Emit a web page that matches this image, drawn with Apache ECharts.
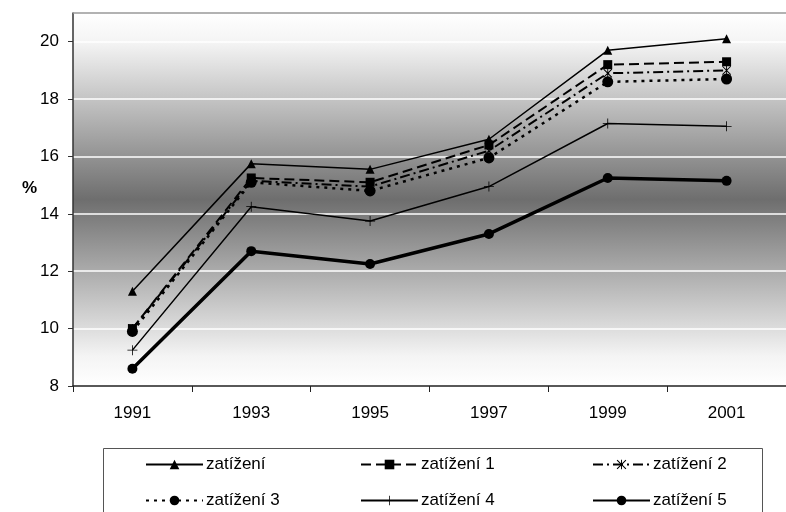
<!DOCTYPE html>
<html>
<head>
<meta charset="utf-8">
<script src="https://cdn.jsdelivr.net/npm/echarts@6/dist/echarts.min.js"></script>
<style>
  html, body { margin: 0; padding: 0; background: #fff; }
  #chart { width: 786px; height: 512px; }
</style>
</head>
<body>
<div id="chart"></div>
<script>
// Years on the horizontal axis
const years = ['1991', '1993', '1995', '1997', '1999', '2001'];

// Percentages for each load series
const zatizeni  = [11.3, 15.75, 15.55, 16.6, 19.7, 20.1];
const zatizeni1 = [10.0, 15.25, 15.1, 16.4, 19.2, 19.3];
const zatizeni2 = [10.0, 15.15, 14.95, 16.2, 18.9, 19.0];
const zatizeni3 = [9.9, 15.1, 14.8, 15.95, 18.6, 18.7];
const zatizeni4 = [9.25, 14.25, 13.75, 14.95, 17.15, 17.05];
const zatizeni5 = [8.6, 12.7, 12.25, 13.3, 15.25, 15.15];

const seriesNames = ['zatížení', 'zatížení 1', 'zatížení 2', 'zatížení 3', 'zatížení 4', 'zatížení 5'];

// Y axis range and step
const yMin = 8, yMax = 21, yStep = 2;

const FONT = '"Liberation Sans", Arial, sans-serif';

// Thin plus and asterisk markers as filled outlines
const plusPath = 'path://M4.6,0 H5.4 V4.6 H10 V5.4 H5.4 V10 H4.6 V5.4 H0 V4.6 H4.6 Z';
const starPath = 'path://M4.5,0 L5.5,0 L5.5,10 L4.5,10 Z M0,0.8 L0.8,0 L10,9.2 L9.2,10 Z M9.2,0 L10,0.8 L0.8,10 L0,9.2 Z';

function lineSeries(name, data, symbol, size, width, type) {
  return {
    name: name,
    type: 'line',
    data: data,
    symbol: symbol,
    symbolSize: size,
    showSymbol: true,
    animation: false,
    itemStyle: { color: '#000', borderWidth: 0 },
    lineStyle: { color: '#000', width: width, type: type, cap: 'butt' },
    emphasis: { disabled: true }
  };
}

const series = [
  lineSeries(seriesNames[0], zatizeni,  'triangle', 9, 1.5, 'solid'),
  lineSeries(seriesNames[1], zatizeni1, 'rect', 9, 2, [10, 5]),
  lineSeries(seriesNames[2], zatizeni2, starPath, 9, 2, [10, 4, 2, 4]),
  lineSeries(seriesNames[3], zatizeni3, 'circle', 11, 2.5, [3, 5]),
  lineSeries(seriesNames[4], zatizeni4, plusPath, 10, 1.5, 'solid'),
  lineSeries(seriesNames[5], zatizeni5, 'circle', 10, 3.5, 'solid')
];

// One legend column holding two stacked entries
function legendColumn(left, names) {
  return {
    orient: 'vertical',
    left: left,
    top: 456,
    height: 80,
    padding: 0,
    itemWidth: 57,
    itemHeight: 12,
    itemGap: 19,
    data: names,
    selectedMode: false,
    textStyle: { fontFamily: FONT, fontSize: 17, color: '#000', padding: [0, 0, 0, -2] }
  };
}

const chart = echarts.init(document.getElementById('chart'), null, { renderer: 'canvas' });

chart.setOption({
  animation: false,
  backgroundColor: '#fff',
  grid: {
    left: 73,
    top: 13,
    width: 733,
    bottom: 126,
    show: true,
    borderWidth: 0,
    backgroundColor: {
      type: 'linear', x: 0, y: 0, x2: 0, y2: 1,
      colorStops: [
        { offset: 0, color: '#ffffff' },
        { offset: 0.08, color: '#f4f4f4' },
        { offset: 0.5, color: '#6e6e6e' },
        { offset: 0.92, color: '#f4f4f4' },
        { offset: 1, color: '#ffffff' }
      ]
    }
  },
  xAxis: {
    type: 'category',
    data: years,
    boundaryGap: true,
    axisLine: { show: true, lineStyle: { color: '#222', width: 1.5 } },
    axisTick: { show: true, length: 6, lineStyle: { color: '#222', width: 1 } },
    axisLabel: { fontFamily: FONT, fontSize: 17, color: '#000', margin: 19 },
    splitLine: { show: false }
  },
  yAxis: {
    type: 'value',
    min: yMin,
    max: yMax,
    interval: yStep,
    axisLine: { show: true, lineStyle: { color: '#333', width: 1.5 } },
    axisTick: { show: true, length: 5, lineStyle: { color: '#333' } },
    axisLabel: { fontFamily: FONT, fontSize: 17, color: '#000', margin: 14, showMaxLabel: false },
    splitLine: { show: true, lineStyle: { color: '#ffffff', width: 1.5 } }
  },
  legend: [
    legendColumn(145, [seriesNames[0], seriesNames[3]]),
    legendColumn(360, [seriesNames[1], seriesNames[4]]),
    legendColumn(592, [seriesNames[2], seriesNames[5]])
  ],
  graphic: [
    {
      type: 'text',
      left: 22,
      top: 180,
      style: { text: '%', font: 'bold 17px ' + FONT, fill: '#000' }
    },
    {
      type: 'line',
      z: 100,
      shape: { x1: 73, y1: 13, x2: 786, y2: 13 },
      style: { stroke: '#999', lineWidth: 1.5 }
    },
    {
      type: 'rect',
      z: 100,
      shape: { x: 103.5, y: 448.5, width: 659, height: 80 },
      style: { fill: 'none', stroke: '#555', lineWidth: 1 }
    }
  ],
  series: series
});
</script>
</body>
</html>
